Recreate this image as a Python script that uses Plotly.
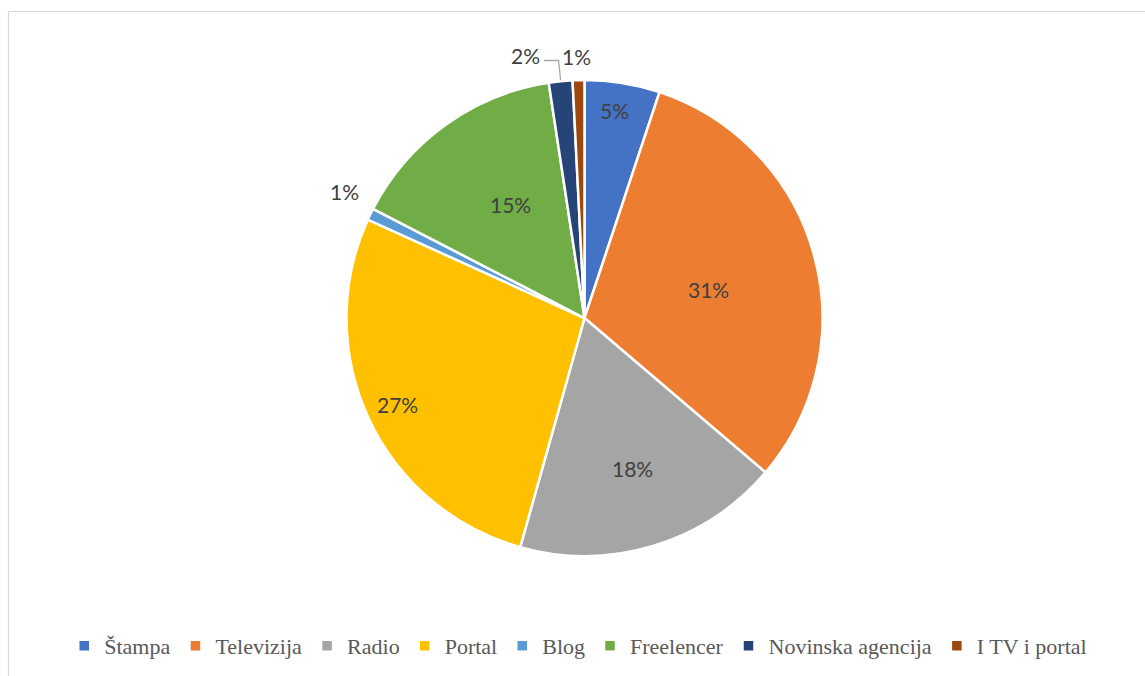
import math
import plotly.graph_objects as go

# Share of respondents by type of media outlet (%)
categories = ["Štampa", "Televizija", "Radio", "Portal", "Blog",
              "Freelencer", "Novinska agencija", "I TV i portal"]
shares = [5.1, 31.1, 18.1, 27.4, 0.8, 15.0, 1.6, 0.8]
colors = ["#4472C4", "#ED7D31", "#A5A5A5", "#FFC000", "#5B9BD5",
          "#70AD47", "#264478", "#9E480E"]

# Layout of the figure in pixels
W, H = 1145, 676
CX, CY, R = 584.5, 318.0, 238.0

# Where each percentage label sits: fraction of the radius along the slice
# bisector, plus an optional angular nudge (degrees) for crowded slices.
label_radius = [0.88, 0.535, 0.665, 0.865, 1.14, 0.57, 1.13, 1.10]
label_nudge = [-1.0, 2.8, -0.8, 0.0, 2.0, 2.4, -6.8, -0.3]
leader_for = {"Novinska agencija"}


def px(x):
    return x / W


def py(y):
    return 1 - y / H


fig = go.Figure(go.Pie(
    labels=categories,
    values=shares,
    sort=False,
    direction="clockwise",
    rotation=0,
    marker=dict(colors=colors, line=dict(color="white", width=2.5)),
    textinfo="none",
    hoverinfo="label+percent",
    domain=dict(x=[px(CX - R), px(CX + R)], y=[py(CY + R), py(CY - R)]),
))

total = sum(shares)
annotations = []
shapes = []
cum = 0.0
for name, v, rf, nudge in zip(categories, shares, label_radius, label_nudge):
    mid = (cum + v / 2) / total * 360.0
    cum += v
    a = math.radians(mid + nudge)
    lx = CX + rf * R * math.sin(a)
    ly = CY - rf * R * math.cos(a)
    annotations.append(dict(
        x=px(lx), y=py(ly), xref="paper", yref="paper",
        text=f"{round(v / total * 100):d}%", showarrow=False,
        font=dict(family="Lato, Open Sans, sans-serif", size=21, color="#404040"),
        xanchor="center", yanchor="middle",
    ))
    if name in leader_for:
        am = math.radians(mid)
        sx = CX + R * math.sin(am)
        sy = CY - R * math.cos(am) - 1
        ey = ly + 5
        path = (f"M{px(sx)},{py(sy)} L{px(sx - 2)},{py(ey)} "
                f"L{px(lx + 18)},{py(ey)}")
        shapes.append(dict(type="path", xref="paper", yref="paper", path=path,
                           line=dict(color="#A6A6A6", width=1.3)))

# Chart area frame
shapes.append(dict(type="rect", xref="paper", yref="paper",
                   x0=px(8.5), x1=1.02, y0=-0.02, y1=py(11.5),
                   line=dict(color="#D9D9D9", width=1.2), fillcolor="rgba(0,0,0,0)"))

fig.update_layout(
    width=W, height=H,
    margin=dict(l=0, r=0, t=0, b=0),
    paper_bgcolor="white",
    plot_bgcolor="white",
    showlegend=True,
    legend=dict(
        orientation="h", x=0.505, xanchor="center", y=py(646), yanchor="middle",
        font=dict(family="Liberation Serif, Times New Roman, serif", size=22,
                  color="#595959"),
        itemwidth=30, traceorder="normal",
    ),
    annotations=annotations,
    shapes=shapes,
)

fig.write_html("out.html")
